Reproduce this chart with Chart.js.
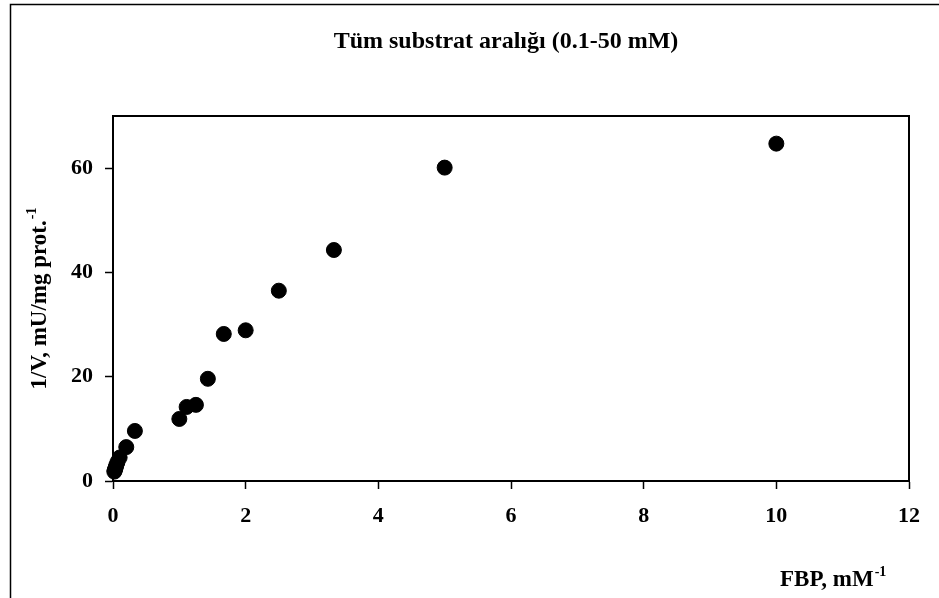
<!DOCTYPE html>
<html>
<head>
<meta charset="utf-8">
<script src="https://cdn.jsdelivr.net/npm/chart.js@4/dist/chart.umd.min.js"></script>
<style>
html,body{margin:0;padding:0;background:#fff;}
#wrap{width:939px;height:598px;position:relative;}
</style>
</head>
<body>
<div id="wrap"><canvas id="c" width="939" height="598"></canvas></div>
<script>
const chartTitle = "Tüm substrat aralığı (0.1-50 mM)";
const xAxisTitle = "FBP, mM";
const yAxisTitle = "1/V, mU/mg prot.";
const axisSup = "-1";
const xValues = [10, 5, 3.33, 2.5, 2, 1.67, 1.43, 1.25, 1.11, 1, 0.33, 0.2, 0.1, 0.067, 0.05, 0.04, 0.033, 0.025, 0.02];
const yValues = [64.7, 60.1, 44.3, 36.5, 28.9, 28.2, 19.6, 14.6, 14.2, 11.9, 9.6, 6.5, 4.5, 3.6, 3.0, 2.6, 2.3, 2.0, 1.8];
const xTicks = [0, 2, 4, 6, 8, 10, 12];
const yTicks = [0, 20, 40, 60];

const FONT = "'Liberation Serif', 'Times New Roman', serif";
const points = xValues.map((x, i) => ({x: x, y: yValues[i]}));

const decor = {
  id: 'decor',
  beforeDraw(chart) {
    const ctx = chart.ctx;
    ctx.save();
    ctx.fillStyle = '#fff';
    ctx.fillRect(0, 0, chart.width, chart.height);
    ctx.strokeStyle = '#000';
    ctx.lineWidth = 1.5;
    ctx.strokeRect(10.5, 4.5, 940, 600);
    ctx.restore();
  },
  afterDraw(chart) {
    const ctx = chart.ctx;
    const a = chart.chartArea;
    ctx.save();
    ctx.strokeStyle = '#000';
    ctx.lineWidth = 2;
    ctx.beginPath();
    ctx.moveTo(a.left, a.top);
    ctx.lineTo(a.right, a.top);
    ctx.lineTo(a.right, a.bottom);
    ctx.stroke();
    ctx.fillStyle = '#000';
    // title
    ctx.font = "bold 24px " + FONT;
    ctx.textAlign = 'center';
    ctx.textBaseline = 'middle';
    ctx.fillText(chartTitle, 506, 42);
    // x axis title
    ctx.textAlign = 'left';
    ctx.textBaseline = 'alphabetic';
    ctx.font = "bold 23px " + FONT;
    const xw = ctx.measureText(xAxisTitle).width;
    ctx.fillText(xAxisTitle, 780, 586);
    ctx.font = "bold 14px " + FONT;
    ctx.fillText(axisSup, 780 + xw + 1, 576);
    // y axis title
    ctx.translate(46, (a.top + a.bottom) / 2);
    ctx.rotate(-Math.PI / 2);
    ctx.font = "bold 23px " + FONT;
    const yw = ctx.measureText(yAxisTitle).width;
    ctx.font = "bold 14px " + FONT;
    const sw = ctx.measureText(axisSup).width;
    const start = -(yw + sw + 1) / 2;
    ctx.font = "bold 23px " + FONT;
    ctx.fillText(yAxisTitle, start, 0);
    ctx.font = "bold 14px " + FONT;
    ctx.fillText(axisSup, start + yw + 1, -10);
    ctx.restore();
  }
};

new Chart(document.getElementById('c'), {
  type: 'scatter',
  data: {
    datasets: [{
      data: points,
      backgroundColor: '#000',
      borderColor: '#000',
      borderWidth: 1,
      pointRadius: 7.5,
      pointHoverRadius: 7.5
    }]
  },
  options: {
    responsive: false,
    animation: false,
    events: [],
    layout: {padding: {left: 0, top: 116, right: 30, bottom: 0}},
    plugins: {legend: {display: false}, tooltip: {enabled: false}, title: {display: false}},
    clip: false,
    scales: {
      x: {
        type: 'linear',
        min: 0, max: 12,
        afterBuildTicks(s) { s.ticks = xTicks.map(v => ({value: v})); },
        afterFit(s) { s.height = 117; },
        grid: {drawOnChartArea: false, drawTicks: true, tickLength: 8, tickWidth: 1.5, tickColor: '#000'},
        border: {display: true, color: '#000', width: 2},
        ticks: {color: '#000', padding: 14, maxRotation: 0, font: {family: FONT, size: 22, weight: 'bold'}}
      },
      y: {
        type: 'linear',
        min: 0, max: 70,
        afterBuildTicks(s) { s.ticks = yTicks.map(v => ({value: v})); },
        afterFit(s) { s.width = 113; },
        grid: {drawOnChartArea: false, drawTicks: true, tickLength: 8, tickWidth: 1.5, tickColor: '#000'},
        border: {display: true, color: '#000', width: 2},
        ticks: {color: '#000', padding: 12, font: {family: FONT, size: 22, weight: 'bold'}}
      }
    }
  },
  plugins: [decor]
});
</script>
</body>
</html>
